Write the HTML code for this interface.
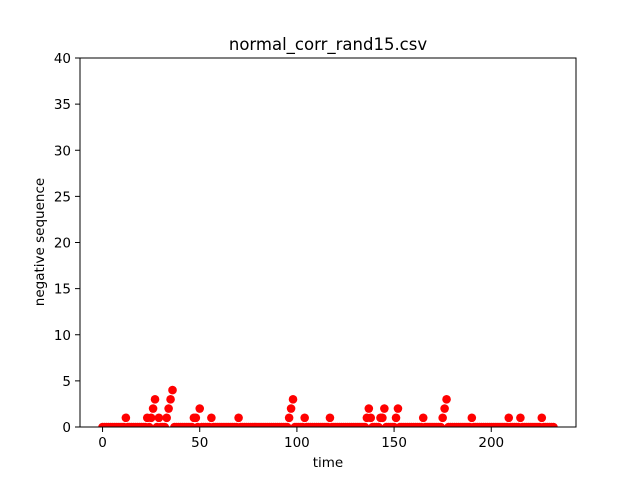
<!DOCTYPE html>
<html><head><meta charset="utf-8"><style>body{margin:0;background:#fff}svg{display:block;font-family:"DejaVu Sans","Liberation Sans",sans-serif}</style></head>
<body>
<svg id="chart" width="640" height="480">
<defs><clipPath id="clip"><rect x="80" y="58" width="496" height="369"/></clipPath></defs>
<rect x="0" y="0" width="640" height="480" fill="#fff"/>
<text x="328" y="50" text-anchor="middle" font-size="16.5">normal_corr_rand15.csv</text>
<g id="marks" clip-path="url(#clip)"></g>
<rect x="80" y="58" width="496" height="369" fill="none" stroke="#000" stroke-width="1"/>
<g id="xt"></g>
<g id="yt"></g>
<text x="328" y="467" text-anchor="middle" font-size="13.5">time</text>
<text x="0" y="0" transform="translate(44,242) rotate(-90)" text-anchor="middle" font-size="13.5">negative sequence</text>
</svg>
<script>
const N = 233;
const nonzeroTimes = [12,23,25,26,27,29,33,34,35,36,47,48,50,56,70,96,97,98,104,117,136,137,138,143,144,145,151,152,165,175,176,177,190,209,215,226];
const nonzeroValues = [1,1,1,2,3,1,1,2,3,4,1,1,2,1,1,1,2,3,1,1,1,2,1,1,1,2,1,2,1,1,2,3,1,1,1,1];
const xTicks = [0,50,100,150,200];
const yTicks = [0,5,10,15,20,25,30,35,40];
const ns = "http://www.w3.org/2000/svg";
const xmin = -11.6, xmax = 243.6, ymin = 0, ymax = 40;
const X = v => 80 + (v - xmin) / (xmax - xmin) * 496;
const Y = v => 427 - (v - ymin) / (ymax - ymin) * 369;
const vals = new Array(N).fill(0);
nonzeroTimes.forEach((t, i) => { vals[t] = nonzeroValues[i]; });
const marks = document.getElementById('marks');
vals.forEach((v, t) => {
  const c = document.createElementNS(ns, 'circle');
  c.setAttribute('cx', X(t)); c.setAttribute('cy', Y(v)); c.setAttribute('r', 4.3); c.setAttribute('fill', '#ff0000');
  
  
  marks.appendChild(c);
});
const xt = document.getElementById('xt');
xTicks.forEach(v => {
  const l = document.createElementNS(ns, 'line');
  l.setAttribute('x1', X(v)); l.setAttribute('x2', X(v)); l.setAttribute('y1', 427); l.setAttribute('y2', 432); l.setAttribute('stroke', '#000');
  
  
  xt.appendChild(l);
  const tx = document.createElementNS(ns, 'text');
  tx.setAttribute('x', X(v)); tx.setAttribute('y', 447); tx.setAttribute('text-anchor', 'middle'); tx.setAttribute('font-size', '13.5');
  tx.textContent = v;
  
  
  xt.appendChild(tx);
});
const yt = document.getElementById('yt');
yTicks.forEach(v => {
  const l = document.createElementNS(ns, 'line');
  l.setAttribute('x1', 75); l.setAttribute('x2', 80); l.setAttribute('y1', Y(v)); l.setAttribute('y2', Y(v)); l.setAttribute('stroke', '#000');
  
  
  yt.appendChild(l);
  const tx = document.createElementNS(ns, 'text');
  tx.setAttribute('x', 71); tx.setAttribute('y', Y(v) + 5); tx.setAttribute('text-anchor', 'end'); tx.setAttribute('font-size', '13.5');
  tx.textContent = v;
  
  
  yt.appendChild(tx);
});
</script>
</body></html>
